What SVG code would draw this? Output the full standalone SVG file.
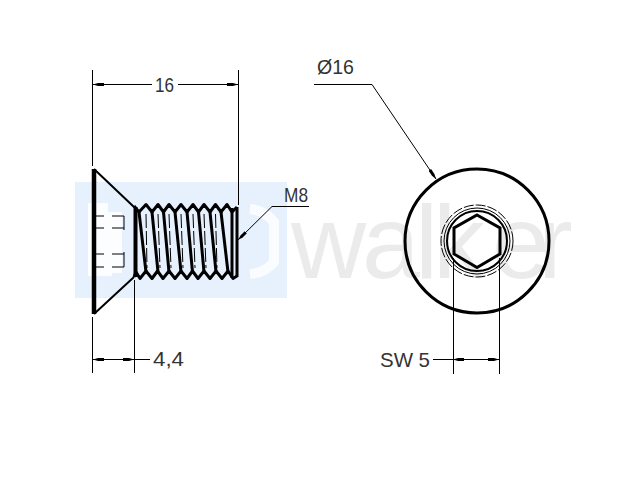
<svg xmlns="http://www.w3.org/2000/svg" width="640" height="480" viewBox="0 0 640 480">
<style>
.dim{font-size:21px;font-family:"Liberation Sans",sans-serif;fill:#333}
.t{fill:none;stroke:#000;stroke-width:1}
.m{fill:none;stroke:#000;stroke-width:2}
.k{fill:none;stroke:#000;stroke-width:3}
</style>
<defs>
<marker id="a" markerWidth="12" markerHeight="6" refX="11" refY="3" orient="auto-start-reverse" markerUnits="userSpaceOnUse"><path d="M0 1.500L6 1.500L11 3L6 4.500L0 4.500Z" fill="#000"/></marker>
</defs>
<g id="watermark">
<rect x="75" y="182" width="212" height="116" fill="#e6f1fd"/>
<path d="M88 203H108V212H122V273H112V276H88Z" fill="#fbfdff"/>
<path d="M250 209A34 34 0 0 1 274 222L274 262A34 34 0 0 1 250 274" fill="none" stroke="#fff" stroke-width="10" opacity=".8"/>
<text x="291 362 415 433 492 538" y="278" style="font-size:104px;fill:#ebebeb;font-family:'Liberation Sans',sans-serif">walker</text>
</g>
<g id="screw-side">
<path fill="none" stroke="#000" stroke-width="4.500" stroke-linejoin="round" d="M94 169V314"/>
<path class="m" d="M94 169L134 207M94 314L134 277"/>
<path fill="none" stroke="#000" stroke-width="4" d="M135.500 207V277"/>
<path class="t" d="M95 216H104M112 216H124M95 228H104M112 228H124M95 254H104M112 254H124M95 267H104M112 267H124M124 216V230M124 252V267"/>
<path class="k" stroke-linejoin="round" d="M134 206L139 212L146 204.500L152 212L158 204.500L163.500 212L169 204.500L175 212L181 204.500L187 212L193 204.500L198.500 212L204 204.500L210 212L215.500 204.500L221 212L227 204.500L232 212L237 207"/>
<path class="k" stroke-linejoin="round" d="M134 277L136 272L140 278.500L146 271L152 278.500L157.500 271L163 278.500L169 271L175 278.500L181 271L187 278.500L192.500 271L198 278.500L204 271L210 278.500L216 271L222 278.500L228 271L233 278.500L237 276"/>
<path class="k" d="M139 212L146 272M152 212L158 272M163.500 212L169 272M175 212L181 272M187 212L192.500 272M198.500 212L204 272M210 212L216 272M221 212L228 272"/>
<path fill="none" stroke="#000" stroke-width="1" stroke-dasharray="14 3" d="M146 214L147 268M158 214L160 268M169 214L171 268M181 214L183 268M193 214L195 268M204 214L206 268M215.500 214L217 268"/>
<path fill="none" stroke="#000" stroke-width="3" d="M232 208V278"/>
<path fill="none" stroke="#000" stroke-width="3" d="M237 207V277"/>
</g>
<g id="screw-front">
<circle class="k" cx="477" cy="241" r="72"/>
<circle cx="477" cy="241" r="36" fill="none" stroke="#000" stroke-dasharray="10 2"/>
<circle class="t" cx="477" cy="241" r="33"/>
<circle class="m" cx="477" cy="241" r="30"/>
<path class="k" d="M477 215L500 228V254L477 267.500L454 254V228Z"/>
</g>
<g id="connectors">
<path class="t" d="M92.500 70V166M238.500 70V205M92.500 317V373M134.500 280V373M453.500 258V374M499.500 258V374"/>
<path class="t" marker-start="url(#a)" d="M93 84.500H152"/>
<path class="t" marker-end="url(#a)" d="M178 84.500H238"/>
<path class="t" marker-start="url(#a)" d="M93 359.500H115"/>
<path class="t" marker-end="url(#a)" d="M115 359.500H134"/>
<path class="t" d="M134 359.500H150"/>
<path class="t" marker-start="url(#a)" d="M453 359.500H476"/>
<path class="t" marker-end="url(#a)" d="M476 359.500H499"/>
<path class="t" d="M433 359.500H453"/>
<path class="t" marker-end="url(#a)" d="M314 84.500H372L436 179"/>
<path class="t" marker-end="url(#a)" d="M309 206.500H272L238 240"/>
</g>
<g id="labels">
<text class="dim" x="155" y="92" textLength="19" lengthAdjust="spacingAndGlyphs">16</text>
<text class="dim" x="153" y="366" textLength="31" lengthAdjust="spacingAndGlyphs">4,4</text>
<text class="dim" x="380" y="367" textLength="50" lengthAdjust="spacingAndGlyphs">SW 5</text>
<text class="dim" x="284" y="202" textLength="24" lengthAdjust="spacingAndGlyphs">M8</text>
<text class="dim" x="317" y="74" textLength="37" lengthAdjust="spacingAndGlyphs">Ø16</text>
</g>
</svg>
